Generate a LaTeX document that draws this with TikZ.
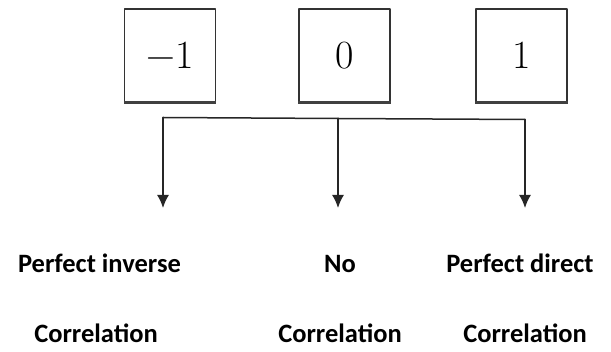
\documentclass[tikz,border=0pt]{standalone}
\usepackage{fontspec}
\newfontfamily\labelfont{Carlito}
\usetikzlibrary{arrows.meta}

\begin{document}
\begin{tikzpicture}[x=1pt, y=-1pt, line cap=round, line join=round]

% --- Styles ---
\tikzset{
    valuebox/.style={
        draw=black!80,
        line width=1.4pt,
        minimum width=91pt,
        minimum height=93pt,
        inner sep=0pt,
        font=\fontsize{40}{44}\selectfont
    },
    boxbottom/.style={
        draw=black!75,
        line width=2.6pt,
        line cap=butt
    },
    branch/.style={
        draw=black!85,
        line width=1.5pt
    },
    drop/.style={
        branch,
        -{Latex[length=13pt, width=12pt]}
    },
    caption/.style={
        inner sep=0pt,
        anchor=base,
        font=\labelfont\bfseries\fontsize{26.5}{30}\selectfont
    }
}

\useasboundingbox (0,0) rectangle (611,352);

% --- Waarden van r ---
\node[valuebox] (minusone) at (170,55.5) {−1};
\node[valuebox] (zero) at (344.5,55.5) {0};
\node[valuebox] (one) at (521.5,55.5) {1};

% slightly heavier bottom edge
\draw[boxbottom] (minusone.south west) -- (minusone.south east);
\draw[boxbottom] (zero.south west) -- (zero.south east);
\draw[boxbottom] (one.south west) -- (one.south east);

% --- Vertakking ---
\coordinate (splitL) at (163,117.5);
\coordinate (splitM) at (338,118.5);
\coordinate (splitR) at (525,119.5);

\coordinate (tipL) at (163,208);
\coordinate (tipM) at (338,208);
\coordinate (tipR) at (525,208);

\draw[branch] (splitL) -- (splitM) -- (splitR);

\draw[drop] (splitL) -- (tipL);
\draw[drop] (splitM) -- (tipM);
\draw[drop] (splitR) -- (tipR);

% --- Labels ---
\node[caption] (inverse) at (99.5,273) {Perfect inverse};
\node[caption] (none) at (340,273) {No};
\node[caption] (direct) at (520,273) {Perfect direct};

\node[caption] (corrL) at (96,343) {Correlation};
\node[caption] (corrM) at (340,343) {Correlation};
\node[caption] (corrR) at (525,343) {Correlation};

\end{tikzpicture}
\end{document}
